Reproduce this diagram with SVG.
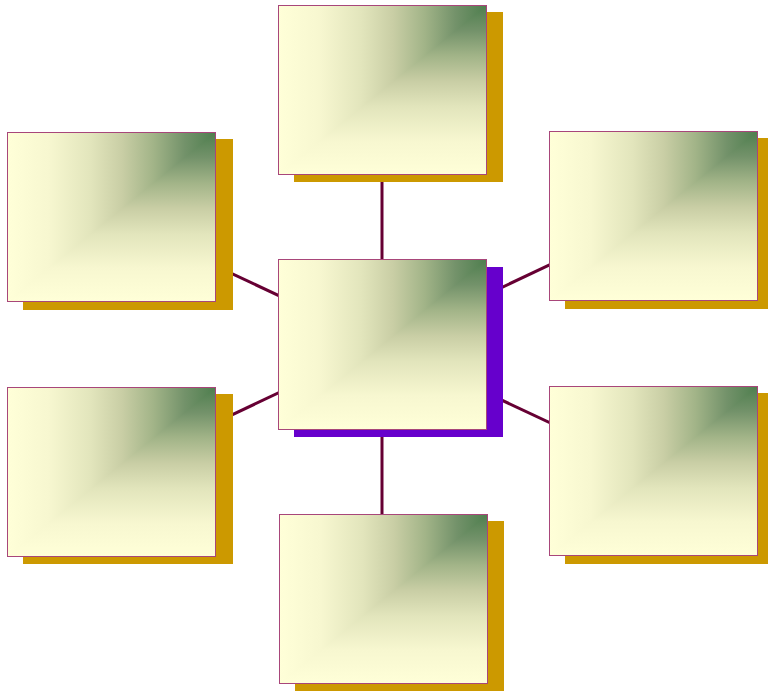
<svg xmlns="http://www.w3.org/2000/svg" width="768" height="691" viewBox="0 0 768 691">
<defs>
<linearGradient id="gh" x1="0" y1="0" x2="1" y2="0">
<stop offset="0" stop-color="#FFFFD8"/>
<stop offset="0.2" stop-color="#F7F7D0"/>
<stop offset="0.4" stop-color="#E2E5BC"/>
<stop offset="0.55" stop-color="#C9CEA5"/>
<stop offset="0.7" stop-color="#A2B488"/>
<stop offset="0.85" stop-color="#73926A"/>
<stop offset="1" stop-color="#4E7E4E"/>
</linearGradient>
<linearGradient id="gv" x1="0" y1="0" x2="0" y2="1">
<stop offset="0" stop-color="#4E7E4E"/>
<stop offset="0.15" stop-color="#73926A"/>
<stop offset="0.3" stop-color="#A2B488"/>
<stop offset="0.45" stop-color="#C9CEA5"/>
<stop offset="0.6" stop-color="#E2E5BC"/>
<stop offset="0.8" stop-color="#F7F7D0"/>
<stop offset="1" stop-color="#FFFFD8"/>
</linearGradient>
<clipPath id="tri" clipPathUnits="objectBoundingBox">
<polygon points="0,1 1,0 1,1"/>
</clipPath>
<style>
.sh{fill:#CC9900}
.shc{fill:#6600CC}
.bg{fill:url(#gh)}
.ov{fill:url(#gv)}
.bd{fill:none;stroke:#A8467A;stroke-width:1}
.cn{stroke:#660033;stroke-width:3;fill:none}
</style>
</defs>
<g id="connectors">
<line class="cn" x1="382" y1="344" x2="382" y2="90"/>
<line class="cn" x1="382" y1="344" x2="382" y2="599"/>
<line class="cn" x1="382" y1="344" x2="111" y2="217"/>
<line class="cn" x1="382" y1="344" x2="111" y2="472"/>
<line class="cn" x1="382" y1="344" x2="653" y2="216"/>
<line class="cn" x1="382" y1="344" x2="653" y2="471"/>
</g>
<g id="node-top">
<rect class="sh" x="294" y="12" width="209" height="170"/>
<rect class="bg" x="278" y="5" width="209" height="170"/>
<rect class="ov" x="278" y="5" width="209" height="170" clip-path="url(#tri)"/>
<rect class="bd" x="278.5" y="5.5" width="208" height="169"/>
</g>
<g id="node-left-top">
<rect class="sh" x="23" y="139" width="210" height="171"/>
<rect class="bg" x="7" y="132" width="209" height="170"/>
<rect class="ov" x="7" y="132" width="209" height="170" clip-path="url(#tri)"/>
<rect class="bd" x="7.5" y="132.5" width="208" height="169"/>
</g>
<g id="node-right-top">
<rect class="sh" x="565" y="138" width="203" height="171"/>
<rect class="bg" x="549" y="131" width="209" height="170"/>
<rect class="ov" x="549" y="131" width="209" height="170" clip-path="url(#tri)"/>
<rect class="bd" x="549.5" y="131.5" width="208" height="169"/>
</g>
<g id="node-center">
<rect class="shc" x="294" y="267" width="209" height="170"/>
<rect class="bg" x="278" y="259" width="209" height="171"/>
<rect class="ov" x="278" y="259" width="209" height="171" clip-path="url(#tri)"/>
<rect class="bd" x="278.5" y="259.5" width="208" height="170"/>
</g>
<g id="node-left-bottom">
<rect class="sh" x="23" y="394" width="210" height="170"/>
<rect class="bg" x="7" y="387" width="209" height="170"/>
<rect class="ov" x="7" y="387" width="209" height="170" clip-path="url(#tri)"/>
<rect class="bd" x="7.5" y="387.5" width="208" height="169"/>
</g>
<g id="node-right-bottom">
<rect class="sh" x="565" y="393" width="203" height="171"/>
<rect class="bg" x="549" y="386" width="209" height="170"/>
<rect class="ov" x="549" y="386" width="209" height="170" clip-path="url(#tri)"/>
<rect class="bd" x="549.5" y="386.5" width="208" height="169"/>
</g>
<g id="node-bottom">
<rect class="sh" x="295" y="521" width="209" height="170"/>
<rect class="bg" x="279" y="514" width="209" height="170"/>
<rect class="ov" x="279" y="514" width="209" height="170" clip-path="url(#tri)"/>
<rect class="bd" x="279.5" y="514.5" width="208" height="169"/>
</g>
</svg>
